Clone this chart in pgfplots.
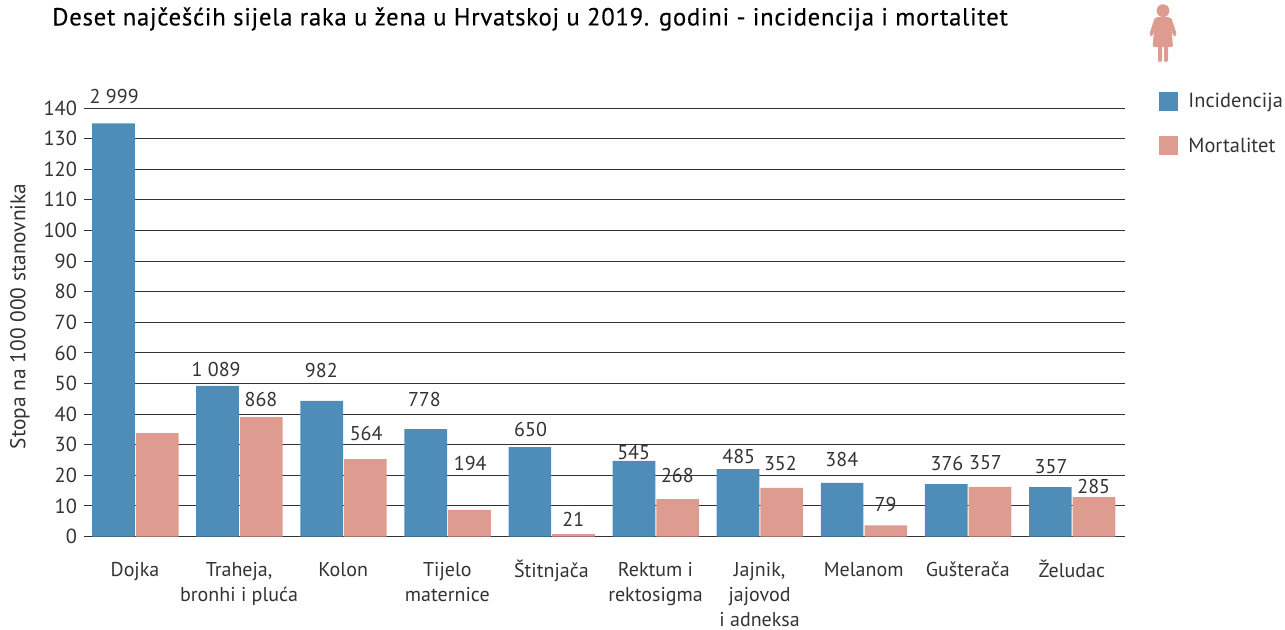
\documentclass[border=0pt]{standalone}
\usepackage{fontspec}
\setmainfont{PT Sans}
\newfontface\titlefont[LetterSpace=3,FakeBold=0.25]{PT Sans}
\usepackage{pgfplots}
\pgfplotsset{compat=1.18}
\definecolor{blueb}{HTML}{4E8DB8}
\definecolor{pinkb}{HTML}{DE9B90}
\definecolor{txt}{HTML}{333333}
\newcommand\st{\rule{0pt}{8pt}}
\begin{document}
\begin{tikzpicture}
\path[use as bounding box] (0,0) rectangle (642.5pt,314.5pt);
\begin{axis}[
  at={(42pt,46.25pt)}, anchor=south west,
  scale only axis, width=520.5pt, height=214.25pt,
  ybar, bar width=0.41,
  xmin=-0.49, xmax=9.51, ymin=0, ymax=140,
  xtick={0,...,9}, ytick={0,10,...,140},
  xticklabels={\st Dojka,{\st Traheja,\\bronhi i pluća},\st Kolon,{\st Tijelo\\maternice},\st Štitnjača,{\st Rektum i\\rektosigma},{\st Jajnik,\\jajovod\\i adneksa},\st Melanom,\st Gušterača,\st Želudac},
  xticklabel style={align=center, font=\fontsize{10}{12.4}\selectfont, text=txt, anchor=north, inner sep=0pt, yshift=-11.8pt},
  yticklabel style={font=\fontsize{10.2}{12}\selectfont, text=txt},
  /pgf/number format/assume math mode=true,
  major tick length=0pt, tick style={draw=none},
  ymajorgrids, major grid style={draw=txt, line width=0.5pt},
  axis x line*=bottom, axis y line*=left,
  x axis line style={draw=txt, line width=0.5pt, -},
  y axis line style={draw=none},
  ylabel={Stopa na 100 000 stanovnika},
  ylabel style={at={(axis description cs:-0.0615,0.514)}, anchor=center, font=\fontsize{10.7}{12}\selectfont, text=txt},
  clip=false,
]
\addplot[fill=blueb, draw=none, bar shift=-0.207] coordinates {(0,135) (1,49.2) (2,44.3) (3,35.1) (4,29.2) (5,24.7) (6,22) (7,17.5) (8,17.1) (9,16.1)};
\addplot[fill=pinkb, draw=none, bar shift=0.213] coordinates {(0,33.8) (1,39) (2,25.3) (3,8.7) (4,0.8) (5,12.2) (6,15.9) (7,3.6) (8,16.2) (9,12.9)};
\tikzset{vl/.style={font=\fontsize{10}{12}\selectfont, text=txt, inner sep=0pt}}
\foreach \x/\y/\t in {-0.2/143.6/2 999, .779/54.7/1 089, 1.21/44.9/868, 1.79/54.1/982, 2.22/33.5/564, 2.78/44.9/778, 3.22/24/194, 3.8/35.1/650, 4.21/5.7/21, 4.79/27.6/545, 5.21/19.8/268, 5.8/26/485, 6.2/24/352, 6.79/25/384, 7.21/10.6/79, 7.8/24/376, 8.17/24/357, 8.8/22.7/357, 9.21/16.5/285}{
  \edef\temp{\noexpand\node[vl] at (axis cs:\x,\y) {\t};}\temp
}
\end{axis}
\begin{scope}[x=.5pt,y=-.5pt,yshift=314.5pt]
\node[anchor=west, inner sep=0pt, text=black, font=\fontsize{12.35}{14}\titlefont] at (52,19) {Deset najčešćih sijela raka u žena u Hrvatskoj u 2019. godini - incidencija i mortalitet};
\fill[blueb] (1159,92) rectangle (1178,111);
\fill[pinkb] (1159,136) rectangle (1178,155);
\node[anchor=west, inner sep=0pt, text=txt, font=\fontsize{10.2}{12}\selectfont] at (1188,102) {Incidencija};
\node[anchor=west, inner sep=0pt, text=txt, font=\fontsize{10.2}{12}\selectfont] at (1188,145) {Mortalitet};
\fill[pinkb] (1163,10.7) circle[radius=3.2pt];
\fill[pinkb, rounded corners=1pt] (1155.5,17) -- (1170.5,17) -- (1173,47) -- (1152.5,47) -- cycle;
\fill[pinkb, rounded corners=1pt] (1155,17) -- (1158.5,21) -- (1152,37) -- (1149,35) -- cycle;
\fill[pinkb, rounded corners=1pt] (1171,17) -- (1167.5,21) -- (1174,37) -- (1177,35) -- cycle;
\fill[pinkb, rounded corners=1pt] (1158,44) rectangle (1162,62);
\fill[pinkb, rounded corners=1pt] (1164,44) rectangle (1168,62);
\end{scope}
\end{tikzpicture}
\end{document}
